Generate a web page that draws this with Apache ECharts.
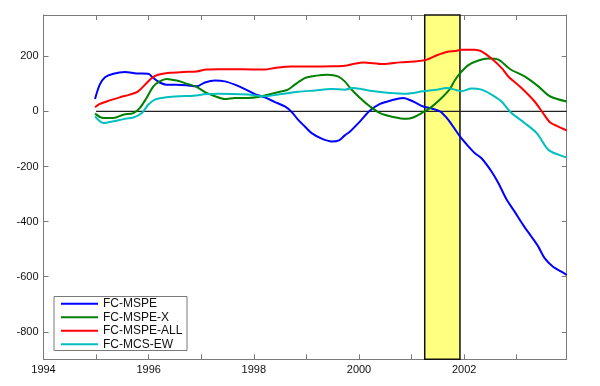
<!DOCTYPE html>
<html><head><meta charset="utf-8">
<script src="https://cdn.jsdelivr.net/npm/echarts@6/dist/echarts.min.js"></script>
<style>html,body{margin:0;padding:0;background:#fff}#c{width:600px;height:386px}</style>
</head><body><div id="c"></div>
<script>
const xTickLabels = [1994, 1996, 1998, 2000, 2002];
const xTicks = [1995, 1996, 1997, 1998, 1999, 2000, 2001, 2002, 2003];
const yTicks = [-800, -600, -400, -200, 0, 200];
const recession = [2001.25, 2001.92];
const zeroLineX = [1995, 2003.95];

const mspeX = [1994.98,1995.07,1995.17,1995.33,1995.55,1995.77,1995.99,1996.09,1996.21,1996.34,1996.53,1996.72,1996.91,1997.07,1997.26,1997.45,1997.64,1997.83,1998.02,1998.21,1998.40,1998.59,1998.72,1998.84,1998.97,1999.10,1999.29,1999.48,1999.62,1999.73,1999.83,2000.02,2000.21,2000.40,2000.59,2000.84,2001.03,2001.22,2001.35,2001.54,2001.67,2001.79,2001.92,2002.08,2002.20,2002.33,2002.52,2002.65,2002.81,2002.96,2003.12,2003.28,2003.41,2003.53,2003.69,2003.85,2003.95];
const mspeY = [45,97,124,137,143,138,137,121,105,97,97,95,91,105,112,109,97,81,63,51,34,18,-2,-30,-55,-79,-99,-109,-105,-87,-73,-36,3,27,39,49,36,18,12,0,-24,-55,-91,-127,-151,-170,-218,-260,-321,-364,-412,-455,-491,-533,-564,-582,-594];

const mspeXX = [1994.98,1995.14,1995.33,1995.52,1995.71,1995.83,1995.96,1996.09,1996.21,1996.34,1996.53,1996.72,1996.91,1997.10,1997.26,1997.45,1997.64,1997.89,1998.08,1998.27,1998.53,1998.65,1998.78,1998.97,1999.16,1999.41,1999.60,1999.73,1999.83,2000.02,2000.21,2000.40,2000.65,2000.90,2001.03,2001.19,2001.35,2001.54,2001.73,2001.82,2001.92,2002.08,2002.27,2002.46,2002.65,2002.87,2003.15,2003.41,2003.63,2003.95];
const mspeXY = [-8,-24,-24,-12,-6,12,49,91,109,118,112,101,89,67,55,45,49,49,52,61,73,79,97,121,129,133,127,109,85,49,18,-6,-20,-27,-22,-6,12,43,82,112,138,168,185,192,188,154,127,91,55,36];

const mspeAllX = [1994.98,1995.07,1995.26,1995.45,1995.64,1995.80,1995.93,1996.06,1996.18,1996.40,1996.66,1996.91,1997.10,1997.32,1997.77,1998.21,1998.40,1998.72,1999.16,1999.48,1999.73,1999.89,2000.08,2000.46,2000.78,2001.10,2001.29,2001.48,2001.67,2001.86,2001.95,2002.20,2002.33,2002.52,2002.71,2002.84,2003.09,2003.34,2003.50,2003.63,2003.79,2003.95];
const mspeAllY = [15,27,40,51,61,73,97,121,133,140,143,145,152,153,153,152,158,163,163,164,166,172,178,172,178,182,188,204,216,220,224,224,218,192,158,127,85,36,-6,-39,-55,-69];

const mcsX = [1994.98,1995.14,1995.33,1995.52,1995.71,1995.87,1995.99,1996.12,1996.34,1996.60,1996.85,1997.10,1997.32,1997.89,1998.21,1998.53,1998.84,1999.16,1999.48,1999.73,1999.89,2000.21,2000.59,2000.90,2001.22,2001.48,2001.67,2001.86,2001.95,2002.14,2002.33,2002.52,2002.71,2002.90,2003.15,2003.38,2003.60,2003.79,2003.95];
const mcsY = [-18,-42,-36,-28,-22,-6,24,43,51,55,57,63,64,61,55,63,71,76,81,79,85,75,67,64,73,79,85,77,73,83,79,61,36,-6,-42,-79,-139,-157,-167];

const names = ['FC-MSPE', 'FC-MSPE-X', 'FC-MSPE-ALL', 'FC-MCS-EW'];
const colors = ['#0000ff', '#008000', '#ff0000', '#00bfbf'];

const zip = (xs, ys) => xs.map((x, i) => [x, ys[i]]);
const XMIN = 1994, XMAX = 2003.95, YMIN = -900, YMAX = 350;
const axisCol = '#7a7a7a';
const font = 'Liberation Sans, Arial, sans-serif';

const chart = echarts.init(document.getElementById('c'), null, {renderer: 'canvas'});
const lineSeries = (name, data, color) => ({
  name, type: 'line', data, symbol: 'none', smooth: 0.3, z: 3,
  lineStyle: {color, width: 2}, itemStyle: {color}
});
const axLine = {show: true, onZero: false, lineStyle: {color: axisCol, width: 1}};
chart.setOption({
  animation: false,
  grid: {left: 43.5, right: 33.3, top: 15, bottom: 26.7},
  xAxis: [{
    type: 'value', min: XMIN, max: XMAX, position: 'bottom',
    axisLine: axLine,
    axisTick: {show: true, inside: true, length: 5, customValues: xTicks, lineStyle: {color: axisCol}},
    axisLabel: {customValues: xTickLabels, color: '#111', fontFamily: font, fontSize: 11, margin: 5, formatter: v => String(v)},
    splitLine: {show: false}
  }, {
    type: 'value', min: XMIN, max: XMAX, position: 'top',
    axisLine: axLine,
    axisTick: {show: true, inside: true, length: 5, customValues: xTicks, lineStyle: {color: axisCol}},
    axisLabel: {show: false}, splitLine: {show: false}
  }],
  yAxis: [{
    type: 'value', min: YMIN, max: YMAX, position: 'left',
    axisLine: axLine,
    axisTick: {show: true, inside: true, length: 5, customValues: yTicks, lineStyle: {color: axisCol}},
    axisLabel: {customValues: yTicks, color: '#111', fontFamily: font, fontSize: 11, margin: 5},
    splitLine: {show: false}
  }, {
    type: 'value', min: YMIN, max: YMAX, position: 'right',
    axisLine: axLine,
    axisTick: {show: true, inside: true, length: 5, customValues: yTicks, lineStyle: {color: axisCol}},
    axisLabel: {show: false}, splitLine: {show: false}
  }],
  legend: {
    orient: 'vertical', left: 54, top: 297, padding: [0, 6, 0, 7],
    icon: 'rect', itemWidth: 37, itemHeight: 2, itemGap: 0,
    data: names,
    textStyle: {fontFamily: font, fontSize: 12, color: '#111', lineHeight: 13.5, height: 13.5}
  },
  graphic: [{
    type: 'rect', shape: {x: 54, y: 296.5, width: 133, height: 54}, z: 100,
    style: {fill: 'none', stroke: axisCol, lineWidth: 1}
  }],
  series: [
    {
      type: 'line', data: [], z: 1, silent: true,
      markArea: {
        silent: true,
        itemStyle: {color: '#ffff80', borderColor: '#111', borderWidth: 1.5},
        data: [[{xAxis: recession[0]}, {xAxis: recession[1]}]]
      }
    },
    {
      type: 'line', data: zeroLineX.map(x => [x, 0]), symbol: 'none', z: 2, silent: true,
      lineStyle: {color: '#222', width: 1.3}
    },
    lineSeries(names[0], zip(mspeX, mspeY), colors[0]),
    lineSeries(names[1], zip(mspeXX, mspeXY), colors[1]),
    lineSeries(names[2], zip(mspeAllX, mspeAllY), colors[2]),
    lineSeries(names[3], zip(mcsX, mcsY), colors[3])
  ]
});
</script></body></html>
